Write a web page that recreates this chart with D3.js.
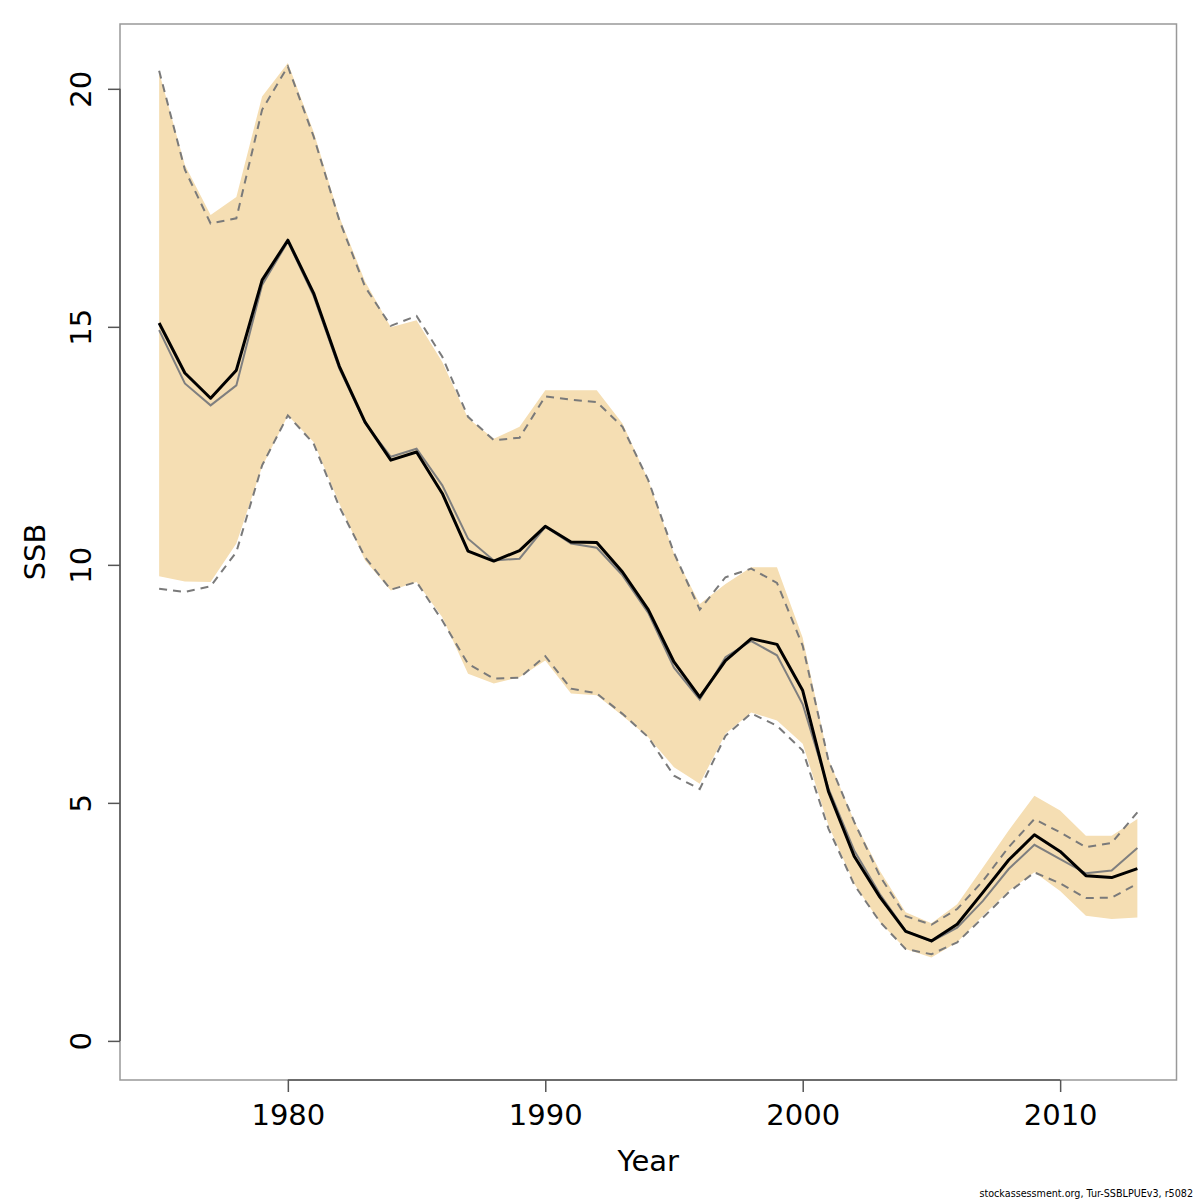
<!DOCTYPE html>
<html>
<head>
    <title>SSB</title>
    <script src="https://d3js.org/d3.v7.min.js"></script>
    <style>
        body { margin: 0; background: #fff; }
        text { font-family: "DejaVu Sans", sans-serif; fill: #000; }
    </style>
</head>
<body>
    <div id="chart"></div>
    <script>
        // data
        const years = d3.range(1975, 2014);
        const ssb = [15.08, 14.03, 13.50, 14.09, 15.98, 16.82, 15.71, 14.17, 13.00, 12.20,
                     12.37, 11.50, 10.29, 10.08, 10.30, 10.81, 10.48, 10.47, 9.85, 9.06,
                     7.96, 7.22, 7.99, 8.45, 8.33, 7.36, 5.24, 3.88, 3.02, 2.30,
                     2.10, 2.45, 3.12, 3.80, 4.33, 3.98, 3.47, 3.43, 3.62];
        const bandLow = [9.76, 9.65, 9.64, 10.45, 12.06, 13.14, 12.58, 11.29, 10.09, 9.46,
                         9.64, 8.90, 7.71, 7.51, 7.64, 7.99, 7.30, 7.26, 6.83, 6.38,
                         5.75, 5.40, 6.45, 6.90, 6.73, 6.24, 4.53, 3.30, 2.49, 1.93,
                         1.75, 2.07, 2.63, 3.15, 3.54, 3.15, 2.63, 2.56, 2.59];
        const bandHigh = [20.35, 18.40, 17.35, 17.73, 19.84, 20.54, 19.10, 17.31, 15.95, 14.99,
                          15.14, 14.26, 13.08, 12.65, 12.90, 13.67, 13.67, 13.67, 12.97, 11.78,
                          10.24, 9.18, 9.60, 9.95, 9.95, 8.47, 5.92, 4.62, 3.57, 2.70,
                          2.47, 2.87, 3.64, 4.42, 5.15, 4.84, 4.31, 4.31, 4.66];
        const altSsb = [14.93, 13.81, 13.35, 13.77, 15.88, 16.79, 15.65, 14.12, 12.98, 12.27,
                        12.44, 11.67, 10.55, 10.09, 10.13, 10.80, 10.45, 10.36, 9.78, 8.99,
                        7.84, 7.17, 8.06, 8.40, 8.10, 7.07, 5.30, 4.00, 3.08, 2.31,
                        2.09, 2.38, 2.94, 3.61, 4.12, 3.82, 3.52, 3.58, 4.05];
        const altLow = [9.50, 9.43, 9.55, 10.27, 12.09, 13.14, 12.55, 11.22, 10.16, 9.48,
                        9.64, 8.83, 7.92, 7.61, 7.63, 8.08, 7.40, 7.30, 6.87, 6.38,
                        5.57, 5.29, 6.41, 6.88, 6.62, 6.10, 4.46, 3.28, 2.50, 1.93,
                        1.82, 2.07, 2.59, 3.12, 3.54, 3.31, 3.00, 3.01, 3.30];
        const altHigh = [20.38, 18.30, 17.17, 17.28, 19.56, 20.47, 19.00, 17.24, 15.84, 15.02,
                         15.23, 14.37, 13.11, 12.62, 12.67, 13.54, 13.47, 13.42, 12.90, 11.78,
                         10.25, 9.06, 9.74, 9.92, 9.62, 8.30, 5.89, 4.60, 3.46, 2.62,
                         2.44, 2.77, 3.36, 4.07, 4.66, 4.38, 4.07, 4.16, 4.80];
        const xTicks = [1980, 1990, 2000, 2010];
        const yTicks = [0, 5, 10, 15, 20];

        const width = 1200, height = 1200;
        const mLeft = 120, mRight = 1176.5, mTop = 24, mBottom = 1080;

        const svg = d3.select("#chart")
            .append("svg")
            .attr("width", width)
            .attr("height", height);

        // R style 4% padding
        const xPad = (2013 - 1975) * 0.04;
        const x = d3.scaleLinear()
            .domain([1975 - xPad, 2013 + xPad])
            .range([mLeft, mRight]);
        const yMax = d3.max(bandHigh);
        const y = d3.scaleLinear()
            .domain([-yMax * 0.04, yMax * 1.04])
            .range([mBottom, mTop]);

        const rows = years.map((yr, i) => ({
            yr, ssb: ssb[i], lo: bandLow[i], hi: bandHigh[i],
            alt: altSsb[i], altLo: altLow[i], altHi: altHigh[i]
        }));

        svg.append("path")
            .datum(rows)
            .attr("fill", "#f5deb3")
            .attr("d", d3.area().x(d => x(d.yr)).y0(d => y(d.lo)).y1(d => y(d.hi)));

        const line = key => d3.line().x(d => x(d.yr)).y(d => y(d[key]));

        svg.append("path").datum(rows)
            .attr("fill", "none").attr("stroke", "#7f7f7f").attr("stroke-width", 2)
            .attr("d", line("alt"));

        ["altLo", "altHi"].forEach(k => {
            svg.append("path").datum(rows)
                .attr("fill", "none").attr("stroke", "#7a7a7a").attr("stroke-width", 2)
                .attr("stroke-dasharray", "8,6")
                .attr("d", line(k));
        });

        svg.append("path").datum(rows)
            .attr("fill", "none").attr("stroke", "#000").attr("stroke-width", 3)
            .attr("stroke-linejoin", "round")
            .attr("d", line("ssb"));

        // box
        svg.append("rect")
            .attr("x", mLeft).attr("y", mTop)
            .attr("width", mRight - mLeft).attr("height", mBottom - mTop)
            .attr("fill", "none").attr("stroke", "#999").attr("stroke-width", 1.5);

        const xAxis = svg.append("g")
            .attr("transform", `translate(0,${mBottom})`)
            .call(d3.axisBottom(x).tickValues(xTicks).tickFormat(d3.format("d"))
                .tickSize(12).tickPadding(12).tickSizeOuter(0));
        xAxis.select(".domain")
            .attr("d", `M${x(xTicks[0])},0H${x(xTicks[xTicks.length - 1])}`)
            .attr("stroke", "#555").attr("stroke-width", 1.5);
        xAxis.selectAll(".tick line").attr("stroke", "#555").attr("stroke-width", 1.5);
        xAxis.selectAll("text").style("font-size", "29px").attr("fill", "#000");

        const yAxis = svg.append("g")
            .attr("transform", `translate(${mLeft},0)`)
            .call(d3.axisLeft(y).tickValues(yTicks).tickSize(12).tickSizeOuter(0));
        yAxis.select(".domain")
            .attr("d", `M0,${y(yTicks[0])}V${y(yTicks[yTicks.length - 1])}`)
            .attr("stroke", "#555").attr("stroke-width", 1.5);
        yAxis.selectAll(".tick line").attr("stroke", "#555").attr("stroke-width", 1.5);
        yAxis.selectAll(".tick text")
            .attr("x", null).attr("dy", null)
            .attr("transform", "translate(-29,0) rotate(-90)")
            .attr("text-anchor", "middle")
            .style("font-size", "29px").attr("fill", "#000");

        svg.append("text")
            .attr("x", (mLeft + mRight) / 2).attr("y", 1171)
            .attr("text-anchor", "middle")
            .style("font-size", "29px")
            .text("Year");

        svg.append("text")
            .attr("transform", `translate(45,${(mTop + mBottom) / 2}) rotate(-90)`)
            .attr("text-anchor", "middle")
            .style("font-size", "29px")
            .text("SSB");

        svg.append("text")
            .attr("x", 1193).attr("y", 1197)
            .attr("text-anchor", "end")
            .style("font-size", "9.6px")
            .text("stockassessment.org, Tur-SSBLPUEv3, r5082");
    </script>
</body>
</html>
